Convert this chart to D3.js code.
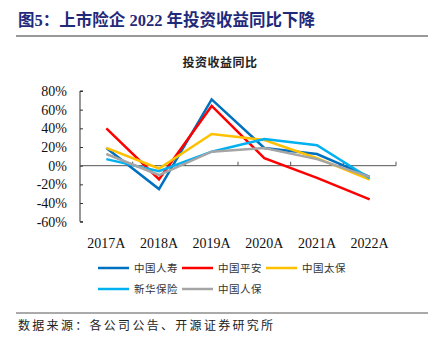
<!DOCTYPE html>
<html>
<head>
<meta charset="utf-8">
<script src="https://cdn.jsdelivr.net/npm/d3@7"></script>
<style>
  body { margin: 0; background: #fff; }
  svg { display: block; }
</style>
</head>
<body>
<div id="chart"></div>
<script>
const years = ['2017A','2018A','2019A','2020A','2021A','2022A'];
const seriesNames = ['中国人寿','中国平安','中国太保','新华保险','中国人保'];
const seriesColors = ['#0070C0','#FF0000','#FFC000','#00B0F0','#A5A5A5'];
const chinaLife = [19, -25, 71, 19, 12.5, -12];
const pingAn = [40, -14.5, 64, 8, -13, -36];
const cpic = [19, -3, 34, 27.5, 8, -15];
const newChina = [7, -6, 15, 28.5, 22, -13.5];
const picc = [12.5, -10, 15, 19, 7, -12];
const yTicks = [-60, -40, -20, 0, 20, 40, 60, 80];

const allSeries = [chinaLife, pingAn, cpic, newChina, picc];

var W = 447, H = 351;
var svg = d3.select('#chart').append('svg')
  .attr('width', W).attr('height', H);

// header
svg.append('text')
  .attr('x', 18).attr('y', 26)
  .style('font-family', '"Liberation Serif", "Noto Sans CJK SC", serif')
  .style('font-weight', 'bold')
  .style('font-size', '16.5px')
  .style('fill', '#1f2a7a')
  .text('图5：上市险企 2022 年投资收益同比下降');

svg.append('line')
  .attr('x1', 16).attr('x2', 428).attr('y1', 36).attr('y2', 36)
  .style('stroke', '#777').style('stroke-width', 1.5);

svg.append('text')
  .attr('x', 220).attr('y', 67)
  .attr('text-anchor', 'middle')
  .style('font-family', '"Noto Sans CJK SC", sans-serif')
  .style('font-weight', 'bold')
  .style('font-size', '12px')
  .style('letter-spacing', '0.5px')
  .style('fill', '#222')
  .text('投资收益同比');

var x = d3.scaleBand().domain(years).range([80, 396]);
var y = d3.scaleLinear().domain([-60, 80]).range([221.7, 91]);

// y axis
var yAxis = svg.append('g')
  .attr('transform', 'translate(80,0)')
  .call(d3.axisRight(y).tickValues(yTicks).tickSize(3).tickFormat(''));
yAxis.select('.domain').attr('d', 'M3,' + y(80) + 'H0V' + y(-60) + 'H3');
yAxis.selectAll('line, path').style('stroke', '#333');

svg.selectAll('.ylab')
  .data(yTicks)
  .enter().append('text')
  .attr('class', 'ylab')
  .attr('x', 67)
  .attr('y', d => y(d) + 5)
  .attr('text-anchor', 'end')
  .style('font-family', '"Liberation Serif", serif')
  .style('font-size', '14px')
  .style('fill', '#111')
  .text(d => d + '%');

// x axis at zero
var xAxis = svg.append('g')
  .attr('transform', 'translate(0,' + y(0) + ')')
  .call(d3.axisTop(x).tickSize(0).tickFormat(''));
xAxis.select('.domain').attr('d', 'M80,0H396');
xAxis.selectAll('line, path').style('stroke', '#555');
xAxis.selectAll('.sep')
  .data(years.slice(1).concat(['end']))
  .enter().append('line')
  .attr('class', 'sep')
  .attr('x1', (d, i) => i < 5 ? x(d) : x.range()[1])
  .attr('x2', (d, i) => i < 5 ? x(d) : x.range()[1])
  .attr('y1', 0).attr('y2', -4)
  .style('stroke', '#555');

svg.selectAll('.xlab')
  .data(years)
  .enter().append('text')
  .attr('class', 'xlab')
  .attr('x', d => x(d) + x.bandwidth() / 2)
  .attr('y', 248)
  .attr('text-anchor', 'middle')
  .style('font-family', '"Liberation Serif", serif')
  .style('font-size', '14px')
  .style('fill', '#111')
  .text(d => d);

// lines
var line = d3.line()
  .x((d, i) => x(years[i]) + x.bandwidth() / 2)
  .y(d => y(d));

allSeries.forEach(function(s, k) {
  svg.append('path')
    .datum(s)
    .attr('d', line)
    .style('fill', 'none')
    .style('stroke', seriesColors[k])
    .style('stroke-width', 2.5)
    .style('stroke-linejoin', 'miter');
});

// legend
var leg = svg.selectAll('.leg')
  .data(seriesNames)
  .enter().append('g')
  .attr('class', 'leg')
  .attr('transform', (d, i) => 'translate(' + (98 + (i % 3) * 84) + ',' + (i < 3 ? 268 : 289) + ')');
leg.append('line')
  .attr('x1', 0).attr('x2', 31)
  .style('stroke', (d, i) => seriesColors[i])
  .style('stroke-width', 2.5);
leg.append('text')
  .attr('x', 36).attr('y', 4)
  .style('font-family', '"Noto Sans CJK SC", sans-serif')
  .style('font-size', '10.5px')
  .style('letter-spacing', '0.5px')
  .style('fill', '#333')
  .text(d => d);

// footer
svg.append('line')
  .attr('x1', 16).attr('x2', 428).attr('y1', 313).attr('y2', 313)
  .style('stroke', '#555').style('stroke-width', 1);

svg.append('text')
  .attr('x', 18).attr('y', 330)
  .style('font-family', '"Noto Sans CJK SC", sans-serif')
  .style('font-size', '12px')
  .style('letter-spacing', '2.3px')
  .style('fill', '#222')
  .text('数据来源：各公司公告、开源证券研究所');
</script>
</body>
</html>
